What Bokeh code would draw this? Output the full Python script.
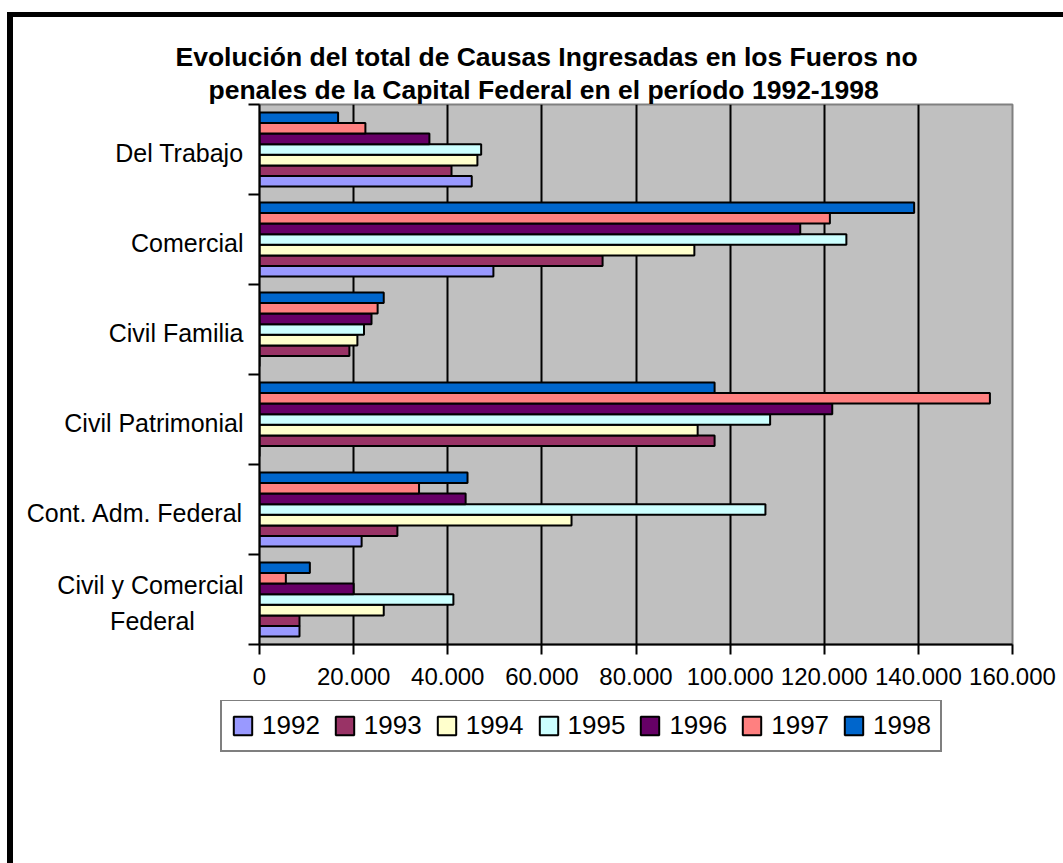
from bokeh.plotting import figure
from bokeh.layouts import column
from bokeh.models import (ColumnDataSource, Range1d, LinearAxis, FixedTicker, Title,
                          Legend, LegendItem)
from bokeh.transform import dodge
from bokeh.embed import file_html
from bokeh.resources import INLINE

# ---------------- data (categories listed bottom -> top, as drawn) ----------------
categories = ["Civil y Comercial\nFederal", "Cont. Adm. Federal", "Civil Patrimonial",
              "Civil Familia", "Comercial", "Del Trabajo"]
years = ["1992", "1993", "1994", "1995", "1996", "1997", "1998"]
v1992 = [8500, 21700, 0, 0, 49700, 45100]
v1993 = [8500, 29300, 96700, 19100, 72900, 40800]
v1994 = [26400, 66300, 93100, 20800, 92400, 46300]
v1995 = [41200, 107500, 108500, 22200, 124700, 47100]
v1996 = [20000, 43800, 121700, 23800, 114900, 36100]
v1997 = [5600, 33900, 155200, 25100, 121200, 22500]
v1998 = [10700, 44200, 96700, 26400, 139100, 16700]
series = [v1992, v1993, v1994, v1995, v1996, v1997, v1998]
colors = ["#9999FF", "#993366", "#FFFFCC", "#CCFFFF", "#660066", "#FF8080", "#0066CC"]
x_ticks = [0, 20000, 40000, 60000, 80000, 100000, 120000, 140000, 160000]
x_tick_labels = ["0", "20.000", "40.000", "60.000", "80.000", "100.000", "120.000",
                 "140.000", "160.000"]
title_lines = ["Evolución del total de Causas Ingresadas en los Fueros no",
               "penales de la Capital Federal en el período 1992-1998"]

FONT = "Liberation Sans"
NBSP = "\u00a0"
W = 1063
TOP_H = 700

positions = [i + 0.5 for i in range(len(categories))]
data = {"pos": positions}
for yr, vals in zip(years, series):
    data["y" + yr] = vals
src = ColumnDataSource(data)

p = figure(width=W, height=TOP_H, output_backend="svg", toolbar_location=None,
           x_range=Range1d(x_ticks[0], x_ticks[-1]), y_range=Range1d(0, len(categories)),
           x_axis_location=None, y_axis_location=None,
           min_border_left=259, min_border_right=51, min_border_top=104, min_border_bottom=56)
# outer chart-area frame (only its left and top sides fall inside the window)
p.styles = {"box-shadow": "inset 7px 12px 0 0 white, inset 13px 17px 0 0 black"}
p.background_fill_color = "#C0C0C0"
p.border_fill_color = "white"
p.border_fill_alpha = 0.0
p.outline_line_color = "#808080"
p.outline_line_width = 2

# bars
n = len(years)
w = 1.0 / (n + 1.5)
renderers = []
for j, (yr, col) in enumerate(zip(years, colors)):
    r = p.hbar(y=dodge("pos", (j - (n - 1) / 2) * w, range=p.y_range), left=0,
               right="y" + yr, height=w, source=src, fill_color=col,
               line_color="black", line_width=2)
    renderers.append(r)

# x axis
xaxis = LinearAxis(ticker=FixedTicker(ticks=x_ticks))
xaxis.major_label_overrides = {t: l for t, l in zip(x_ticks, x_tick_labels)}
xaxis.major_label_text_font = FONT
xaxis.major_label_text_font_size = "24px"
xaxis.major_label_text_color = "black"
xaxis.major_label_standoff = 13
xaxis.axis_line_width = 2
xaxis.axis_line_color = "black"
xaxis.major_tick_line_width = 2
xaxis.major_tick_out = 10
xaxis.major_tick_in = 0
xaxis.minor_tick_line_color = None
p.add_layout(xaxis, "below")

# y axis: labels at category centres, small ticks at category boundaries
def cat_label(c):
    lines = c.split("\n")
    if len(lines) == 1:
        return c
    # second line visually centred under the first
    return lines[0] + "\n" + lines[1] + NBSP * 7

label_ticks = [pp - 0.04 for pp in positions]
yaxis = LinearAxis(ticker=FixedTicker(ticks=label_ticks,
                                      minor_ticks=list(range(len(categories) + 1))))
yaxis.major_label_overrides = {t: cat_label(c) for t, c in zip(label_ticks, categories)}
yaxis.major_label_text_font = FONT
yaxis.major_label_text_font_size = "25px"
yaxis.major_label_text_color = "black"
yaxis.major_label_text_line_height = 1.3
yaxis.major_label_standoff = 5
yaxis.axis_line_width = 2
yaxis.axis_line_color = "black"
yaxis.major_tick_line_color = None
yaxis.major_tick_out = 0
yaxis.major_tick_in = 0
yaxis.minor_tick_line_color = "black"
yaxis.minor_tick_line_width = 2
yaxis.minor_tick_out = 11
yaxis.minor_tick_in = 0
p.add_layout(yaxis, "left")

p.xgrid.ticker = FixedTicker(ticks=x_ticks)
p.xgrid.grid_line_color = "black"
p.xgrid.grid_line_width = 2
p.ygrid.grid_line_color = None

# title (two lines, centred on the whole chart area)
for line, stand, off in zip(reversed(title_lines), [0, 2], [-51, -84]):
    p.add_layout(Title(text=line, align="left", offset=off, standoff=stand,
                       text_font=FONT, text_font_size="26.5px", text_font_style="bold",
                       text_color="black"), "above")

# legend strip below the chart (its own canvas so the box may sit left of the plot area)
lg = figure(width=W, height=863 - TOP_H, output_backend="svg", toolbar_location=None,
            x_range=Range1d(-2, -1), y_range=Range1d(100, 101), x_axis_location=None,
            y_axis_location=None, min_border=0)
lg.styles = {"box-shadow": "inset 7px 0 0 0 white, inset 13px 0 0 0 black"}
lg.background_fill_alpha = 0.0
lg.border_fill_alpha = 0.0
lg.outline_line_color = None
lg.xgrid.visible = False
lg.ygrid.visible = False
for fig in (p, lg):
    if "frame_align" in fig.properties():
        fig.frame_align = False
# key swatches: same series, lying outside this strip's visible ranges
key_renderers = [lg.hbar(y="pos", left=0, right="y" + yr, height=0.1, source=src,
                         fill_color=col, line_color="black", line_width=2)
                 for yr, col in zip(years, colors)]
legend = Legend(items=[LegendItem(label=yr, renderers=[r]) for yr, r in zip(years, key_renderers)],
                orientation="horizontal", location=(220, 111),
                glyph_width=23, glyph_height=23, label_standoff=8, spacing=13, padding=9,
                label_text_font=FONT, label_text_font_size="26px", label_text_color="black",
                border_line_color="black", border_line_width=2,
                background_fill_color="white", background_fill_alpha=1.0, margin=0)
lg.add_layout(legend, "center")

layout = column(p, lg, spacing=0)
open("out.html", "w").write(file_html(layout, INLINE))
